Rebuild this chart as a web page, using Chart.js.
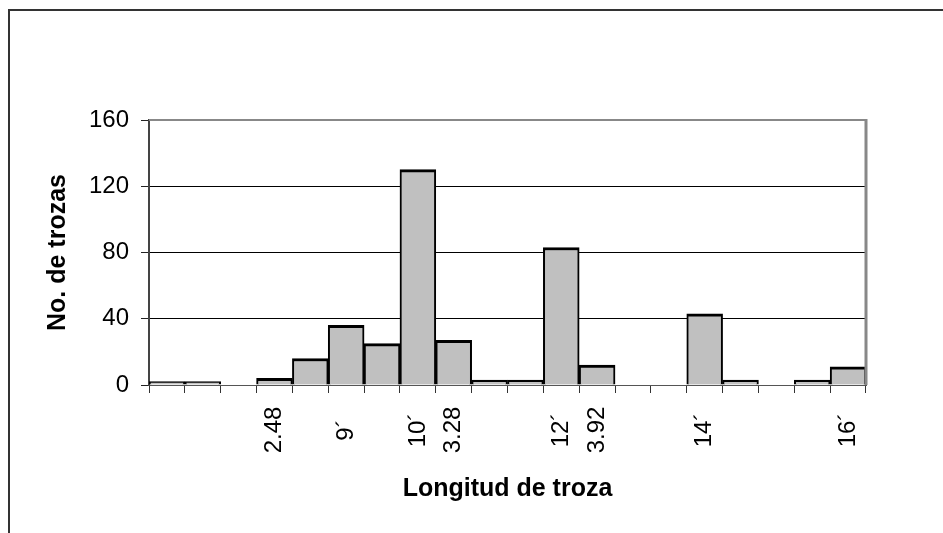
<!DOCTYPE html>
<html>
<head>
<meta charset="utf-8">
<script src="https://cdn.jsdelivr.net/npm/chart.js@4/dist/chart.umd.min.js"></script>
<style>
html,body{margin:0;padding:0;background:#fff;}
#wrap{position:relative;width:943px;height:533px;overflow:hidden;}
#frame{position:absolute;left:8px;top:9px;width:1000px;height:600px;border-left:2px solid #333;border-top:2px solid #333;}
canvas{position:absolute;left:0;top:0;}
</style>
</head>
<body>
<div id="wrap"><div id="frame"></div><canvas id="c" width="943" height="533"></canvas></div>
<script>
// lengths (only some classes are labelled on the axis)
var categories=['','','','2.48','','9´','','10´','3.28','','','12´','3.92','','','14´','','','','16´']
var trozas=[2,2,0,4,16,36,25,130,27,3,3,83,12,0,0,43,3,0,3,11]
var yMax=160, yStep=40

var FONT='"Liberation Sans", Arial, sans-serif'

// x labels centred under each category, rotated
var rotatedLabels={
    id:'rotatedLabels',
    afterDraw:function(chart){
        var ctx=chart.ctx, xs=chart.scales.x
        ctx.save()
        ctx.font='24px '+FONT
        ctx.fillStyle='#000'
        ctx.textAlign='center'
        ctx.textBaseline='middle'
        categories.forEach(function(lab,i){
            if(!lab) return
            ctx.save()
            ctx.translate(xs.getPixelForValue(i),xs.top+45)
            ctx.rotate(-Math.PI/2)
            ctx.fillText(lab,0,0)
            ctx.restore()
        })
        ctx.restore()
    }
}

// grey top/right edge of the plot area
var plotFrame={
    id:'plotFrame',
    afterDatasetsDraw:function(chart){
        var a=chart.chartArea, ctx=chart.ctx
        ctx.save()
        ctx.strokeStyle='#888'
        ctx.lineWidth=2
        ctx.beginPath(); ctx.moveTo(a.left,a.top); ctx.lineTo(a.right+1,a.top); ctx.stroke()
        ctx.lineWidth=3
        ctx.beginPath(); ctx.moveTo(a.right,a.top-1); ctx.lineTo(a.right,a.bottom); ctx.stroke()
        ctx.restore()
    }
}

new Chart(document.getElementById('c'),{
    type:'bar',
    data:{
        labels:categories,
        datasets:[{
            data:trozas,
            backgroundColor:'#c0c0c0',
            borderColor:'#000',
            borderWidth:{top:3,left:2,right:2,bottom:0},
            barPercentage:1,
            categoryPercentage:1
        }]
    },
    options:{
        responsive:false,
        animation:false,
        layout:{padding:{top:120,right:77,left:0,bottom:0}},
        plugins:{legend:{display:false},tooltip:{enabled:false}},
        scales:{
            x:{
                offset:true,
                grid:{drawOnChartArea:false,drawTicks:true,tickLength:8,color:'#333',lineWidth:1},
                border:{display:true,color:'#555',width:1},
                ticks:{display:false},
                title:{display:true,text:'Longitud de troza',color:'#000',
                    font:{family:FONT,size:25,weight:'bold'},padding:{bottom:29}},
                afterFit:function(s){s.height=148}
            },
            y:{
                min:0,max:yMax,
                grid:{
                    color:function(c){return c.tick && c.tick.value===yMax?'rgba(0,0,0,0)':'#000'},
                    tickColor:'#222',tickLength:8,lineWidth:1
                },
                border:{display:true,color:'#444',width:2},
                ticks:{stepSize:yStep,color:'#000',padding:12,font:{family:FONT,size:24}},
                title:{display:true,text:'No. de trozas',color:'#000',
                    font:{family:FONT,size:25,weight:'bold'},padding:{top:43}},
                afterFit:function(s){s.width=149}
            }
        }
    },
    plugins:[plotFrame,rotatedLabels]
})
</script>
</body>
</html>
